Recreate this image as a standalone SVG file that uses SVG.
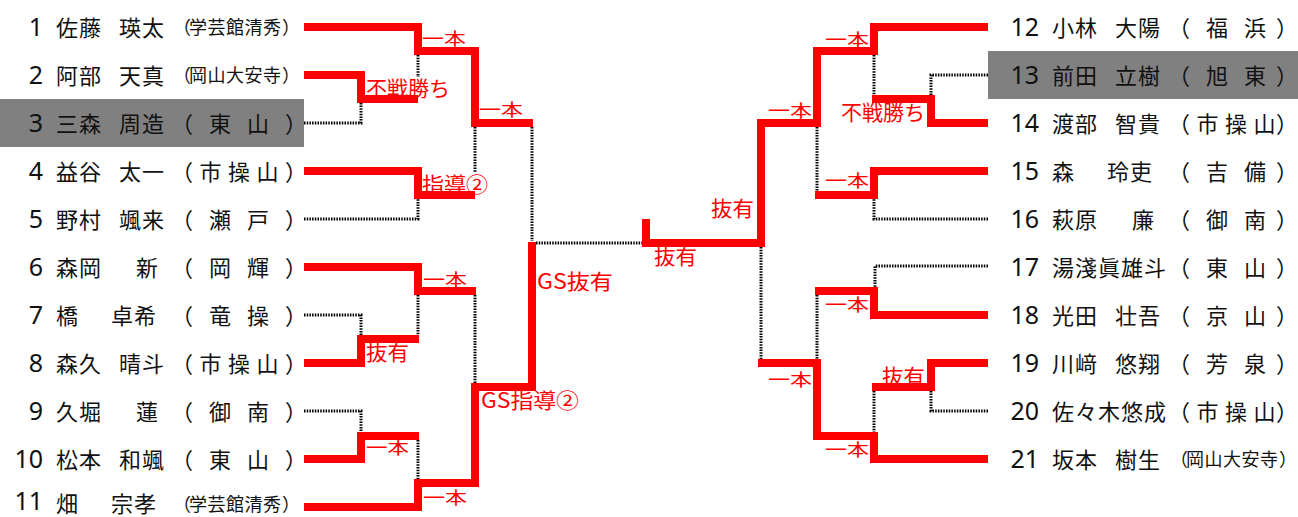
<svg xmlns="http://www.w3.org/2000/svg" width="1298" height="517" viewBox="0 0 1298 517">
<style>
.nm{font-family:"Noto Sans CJK JP","Noto Sans",sans-serif;font-size:22px;letter-spacing:1px;fill:#111}
.no{font-family:"Noto Sans","Noto Sans CJK JP",sans-serif;font-size:25px;fill:#111;text-anchor:end}
.sc{font-family:"Noto Sans CJK JP",sans-serif;font-size:22px;fill:#111}
.ss{font-family:"Noto Sans CJK JP",sans-serif;font-size:18px;fill:#111}
.win{fill:none;stroke:#ff0000;stroke-width:8;stroke-linejoin:miter;stroke-linecap:butt}
.lose{fill:none;stroke:#000;stroke-width:3;stroke-dasharray:1.5 1.2}
.lb{font-family:"Noto Sans CJK JP",sans-serif;fill:#ff0000;font-size:21px}
.lb1{font-family:"Noto Sans CJK JP",sans-serif;fill:#ff0000;font-size:17px}
.gray{fill:#808080}
</style>
<rect width="1298" height="517" fill="#fff"/>
<rect class="gray" x="0" y="99" width="304" height="48"/>
<rect class="gray" x="988" y="51" width="310" height="48"/>

<g id="connectors">
<path class="lose" d="M304,123H361V103"/>
<path class="lose" d="M418,55V77"/>
<path class="lose" d="M304,219H418V199"/>
<path class="lose" d="M475,127V173"/>
<path class="lose" d="M532,127V241"/>
<path class="lose" d="M536,243H642"/>
<path class="lose" d="M304,315H361V335"/>
<path class="lose" d="M418,295V335"/>
<path class="lose" d="M475,295V383"/>
<path class="lose" d="M304,411H361V432"/>
<path class="lose" d="M418,440V479"/>
<polyline class="win" points="304,27 418,27 418,51 475,51 475,123 533,123"/>
<polyline class="win" points="304,75 361,75 361,99 418,99"/>
<polyline class="win" points="304,171 418,171 418,195 475,195"/>
<polyline class="win" points="304,267 418,267 418,291 476,291"/>
<polyline class="win" points="304,363 361,363 361,339 419,339"/>
<polyline class="win" points="304,459 361,459 361,436 419,436"/>
<polyline class="win" points="304,507 418,507 418,483 475,483 475,387 532,387 532,242"/>
<path class="lose" d="M988,75H931V95"/>
<path class="lose" d="M874,55V95"/>
<path class="lose" d="M817,127V191"/>
<path class="lose" d="M988,219H874V199"/>
<path class="lose" d="M988,266H875V287"/>
<path class="lose" d="M817,295V359"/>
<path class="lose" d="M761,247V359"/>
<path class="lose" d="M988,411H931V391"/>
<path class="lose" d="M874,391V432"/>
<polyline class="win" points="988,27 874,27 874,51 817,51 817,123 761,123 761,243 646,243 646,219"/>
<polyline class="win" points="988,123 931,123 931,99 872,99"/>
<polyline class="win" points="988,171 874,171 874,195 815,195"/>
<polyline class="win" points="988,315 874,315 874,291 815,291"/>
<polyline class="win" points="988,363 931,363 931,387 872,387"/>
<polyline class="win" points="988,459 874,459 874,436 817,436 817,363 758,363"/>
</g>

<g id="labels">
<text class="lb1" x="422" y="45" textLength="44" lengthAdjust="spacingAndGlyphs">一本</text>
<text class="lb" x="366" y="96" textLength="84" lengthAdjust="spacingAndGlyphs">不戦勝ち</text>
<text class="lb1" x="479" y="116" textLength="44" lengthAdjust="spacingAndGlyphs">一本</text>
<text class="lb" x="422" y="192" textLength="66" lengthAdjust="spacingAndGlyphs">指導②</text>
<text class="lb1" x="423" y="286" textLength="44" lengthAdjust="spacingAndGlyphs">一本</text>
<text class="lb" x="366" y="360" textLength="43" lengthAdjust="spacingAndGlyphs">抜有</text>
<text class="lb1" x="366" y="454" textLength="43" lengthAdjust="spacingAndGlyphs">一本</text>
<text class="lb1" x="423" y="504" textLength="44" lengthAdjust="spacingAndGlyphs">一本</text>
<text class="lb" x="537" y="289" textLength="76" lengthAdjust="spacingAndGlyphs">GS抜有</text>
<text class="lb" x="481" y="408" textLength="98" lengthAdjust="spacingAndGlyphs">GS指導②</text>
<text class="lb1" x="825" y="46" textLength="44" lengthAdjust="spacingAndGlyphs">一本</text>
<text class="lb1" x="768" y="117" textLength="44" lengthAdjust="spacingAndGlyphs">一本</text>
<text class="lb" x="841" y="120" textLength="84" lengthAdjust="spacingAndGlyphs">不戦勝ち</text>
<text class="lb1" x="825" y="187" textLength="44" lengthAdjust="spacingAndGlyphs">一本</text>
<text class="lb" x="711" y="216" textLength="43" lengthAdjust="spacingAndGlyphs">抜有</text>
<text class="lb" x="654" y="264" textLength="43" lengthAdjust="spacingAndGlyphs">抜有</text>
<text class="lb1" x="825" y="311" textLength="44" lengthAdjust="spacingAndGlyphs">一本</text>
<text class="lb1" x="768" y="386" textLength="44" lengthAdjust="spacingAndGlyphs">一本</text>
<text class="lb" x="882" y="384" textLength="43" lengthAdjust="spacingAndGlyphs">抜有</text>
<text class="lb1" x="825" y="456" textLength="44" lengthAdjust="spacingAndGlyphs">一本</text>
</g>

<g id="p1"><text class="no" x="43" y="35.5">1</text><text class="nm" x="56" y="35.5">佐藤</text><text class="nm" x="119" y="35.5">瑛太</text><text class="ss" x="173 189 207.5 226 244.5 263 282" y="34">（学芸館清秀）</text></g>
<g id="p2"><text class="no" x="43" y="83.5">2</text><text class="nm" x="56" y="83.5">阿部</text><text class="nm" x="119" y="83.5">天真</text><text class="ss" x="173 189 207.5 226 244.5 263 282" y="82">（岡山大安寺）</text></g>
<g id="p3"><text class="no" x="43" y="131.5">3</text><text class="nm" x="56" y="131.5">三森</text><text class="nm" x="119" y="131.5">周造</text><text class="sc" x="171 209 247 285" y="131.5">（東山）</text></g>
<g id="p4"><text class="no" x="43" y="179.5">4</text><text class="nm" x="56" y="179.5">益谷</text><text class="nm" x="119" y="179.5">太一</text><text class="sc" x="171 199.5 228 256.5 285" y="179.5">（市操山）</text></g>
<g id="p5"><text class="no" x="43" y="227.5">5</text><text class="nm" x="56" y="227.5">野村</text><text class="nm" x="119" y="227.5">颯来</text><text class="sc" x="171 209 247 285" y="227.5">（瀬戸）</text></g>
<g id="p6"><text class="no" x="43" y="275.5">6</text><text class="nm" x="56" y="275.5">森岡</text><text class="nm" x="136" y="275.5">新</text><text class="sc" x="171 209 247 285" y="275.5">（岡輝）</text></g>
<g id="p7"><text class="no" x="43" y="323.5">7</text><text class="nm" x="56" y="323.5">橋</text><text class="nm" x="111" y="323.5">卓希</text><text class="sc" x="171 209 247 285" y="323.5">（竜操）</text></g>
<g id="p8"><text class="no" x="43" y="371.5">8</text><text class="nm" x="56" y="371.5">森久</text><text class="nm" x="119" y="371.5">晴斗</text><text class="sc" x="171 199.5 228 256.5 285" y="371.5">（市操山）</text></g>
<g id="p9"><text class="no" x="43" y="419.5">9</text><text class="nm" x="56" y="419.5">久堀</text><text class="nm" x="136" y="419.5">蓮</text><text class="sc" x="171 209 247 285" y="419.5">（御南）</text></g>
<g id="p10"><text class="no" x="43" y="467.5">10</text><text class="nm" x="56" y="467.5">松本</text><text class="nm" x="119" y="467.5">和颯</text><text class="sc" x="171 209 247 285" y="467.5">（東山）</text></g>
<g id="p11"><text class="no" x="43" y="510">11</text><text class="nm" x="56" y="512">畑</text><text class="nm" x="111" y="512">宗孝</text><text class="ss" x="173 189 207.5 226 244.5 263 282" y="511">（学芸館清秀）</text></g>

<g id="p12"><text class="no" x="1039" y="35.5">12</text><text class="nm" x="1052" y="35.5">小林</text><text class="nm" x="1115" y="35.5">大陽</text><text class="sc" x="1168 1206 1244 1276" y="35.5">（福浜）</text></g>
<g id="p13"><text class="no" x="1039" y="83.5">13</text><text class="nm" x="1052" y="83.5">前田</text><text class="nm" x="1115" y="83.5">立樹</text><text class="sc" x="1168 1206 1244 1276" y="83.5">（旭東）</text></g>
<g id="p14"><text class="no" x="1039" y="131.5">14</text><text class="nm" x="1052" y="131.5">渡部</text><text class="nm" x="1115" y="131.5">智貴</text><text class="sc" x="1168 1196.5 1225 1253.5 1276" y="131.5">（市操山）</text></g>
<g id="p15"><text class="no" x="1039" y="179.5">15</text><text class="nm" x="1052" y="179.5">森</text><text class="nm" x="1107" y="179.5">玲吏</text><text class="sc" x="1168 1206 1244 1276" y="179.5">（吉備）</text></g>
<g id="p16"><text class="no" x="1039" y="227.5">16</text><text class="nm" x="1052" y="227.5">萩原</text><text class="nm" x="1132" y="227.5">廉</text><text class="sc" x="1168 1206 1244 1276" y="227.5">（御南）</text></g>
<g id="p17"><text class="no" x="1039" y="275.5">17</text><text class="nm" x="1052" y="275.5">湯淺眞雄斗</text><text class="sc" x="1168 1206 1244 1276" y="275.5">（東山）</text></g>
<g id="p18"><text class="no" x="1039" y="323.5">18</text><text class="nm" x="1052" y="323.5">光田</text><text class="nm" x="1115" y="323.5">壮吾</text><text class="sc" x="1168 1206 1244 1276" y="323.5">（京山）</text></g>
<g id="p19"><text class="no" x="1039" y="371.5">19</text><text class="nm" x="1052" y="371.5">川﨑</text><text class="nm" x="1115" y="371.5">悠翔</text><text class="sc" x="1168 1206 1244 1276" y="371.5">（芳泉）</text></g>
<g id="p20"><text class="no" x="1039" y="419.5">20</text><text class="nm" x="1052" y="419.5">佐々木悠成</text><text class="sc" x="1168 1196.5 1225 1253.5 1276" y="419.5">（市操山）</text></g>
<g id="p21"><text class="no" x="1039" y="467.5">21</text><text class="nm" x="1052" y="467.5">坂本</text><text class="nm" x="1115" y="467.5">樹生</text><text class="ss" x="1170 1186 1204.5 1223 1241.5 1260 1279" y="466">（岡山大安寺）</text></g>
</svg>
